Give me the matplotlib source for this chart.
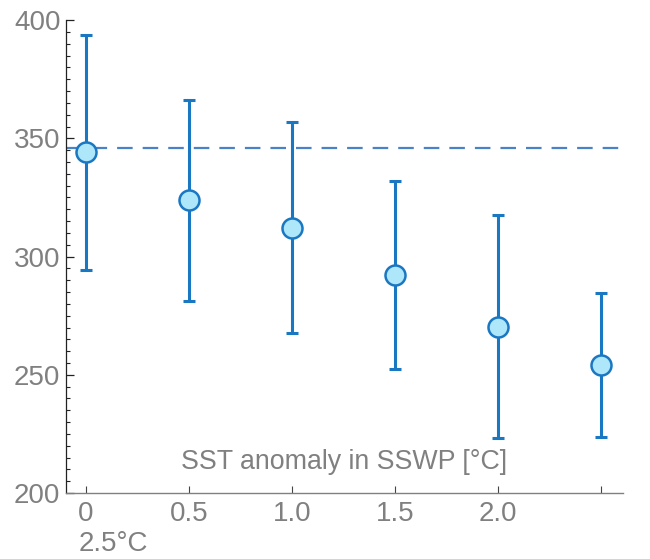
import matplotlib
matplotlib.use("Agg")
import matplotlib.pyplot as plt
from matplotlib.ticker import MultipleLocator

plt.rcParams['font.family'] = ['Liberation Sans', 'DejaVu Sans']

x_vals = [0.0, 0.5, 1.0, 1.5, 2.0, 2.5]
y_vals = [344.2, 323.9, 312.1, 292.2, 270.2, 254.1]
y_upper = [393.7, 366.2, 356.9, 331.9, 317.5, 284.6]
y_lower = [294.3, 281.2, 267.7, 252.4, 223.3, 223.7]
baseline = 345.9
xtick_labels = ['0', '0.5', '1.0', '1.5', '2.0']
extra_label = '2.5°C'
xlabel = 'SST anomaly in SSWP [°C]'

gray = '#808080'
blue = '#1a78c2'
face = '#aee6fa'
dash_col = '#4a82c8'

fig = plt.figure(figsize=(6.5, 5.59), dpi=100)
ax = fig.add_axes([0.1015, 0.118, 0.8565, 0.846])

ax.axhline(baseline, color=dash_col, lw=1.6, dashes=(7, 4.5), zorder=1)

err_lo = [v - l for v, l in zip(y_vals, y_lower)]
err_hi = [u - v for v, u in zip(y_vals, y_upper)]
ax.errorbar(x_vals, y_vals, yerr=[err_lo, err_hi], fmt='none', ecolor=blue,
            elinewidth=2.2, capsize=4.3, capthick=2.2, zorder=2)
ax.plot(x_vals, y_vals, 'o', ms=14.4, mfc=face, mec=blue, mew=1.8, zorder=3)

ax.set_xlim(-0.097, 2.606)
ax.set_ylim(200, 400)

ax.set_xticks(x_vals)
ax.set_xticklabels(xtick_labels + [''])
ax.set_yticks([200, 250, 300, 350, 400])
ax.yaxis.set_minor_locator(MultipleLocator(5))

for s in ['top', 'right']:
    ax.spines[s].set_visible(False)
ax.spines['left'].set_color('#222222')
ax.spines['bottom'].set_color(gray)
ax.spines['left'].set_linewidth(0.9)
ax.spines['bottom'].set_linewidth(1.0)

ax.tick_params(axis='both', which='major', direction='in', labelsize=20,
               labelcolor=gray)
ax.tick_params(axis='y', which='major', length=6, width=0.9, color='#222222', pad=4)
ax.tick_params(axis='y', which='minor', direction='in', length=3, width=0.8, color='#222222')
ax.tick_params(axis='x', which='major', length=5, width=0.8, color='#444444', pad=6)

ax.text(0.5, 0.065, xlabel, transform=ax.transAxes, ha='center', va='center',
        fontsize=19.3, color=gray)

ax.annotate(extra_label, xy=(-0.038, 0), xycoords=('data', 'axes fraction'),
            xytext=(0, -51), textcoords='offset pixels', ha='left', va='center',
            fontsize=20, color=gray, annotation_clip=False)

fig.savefig('out.png', dpi=100)
